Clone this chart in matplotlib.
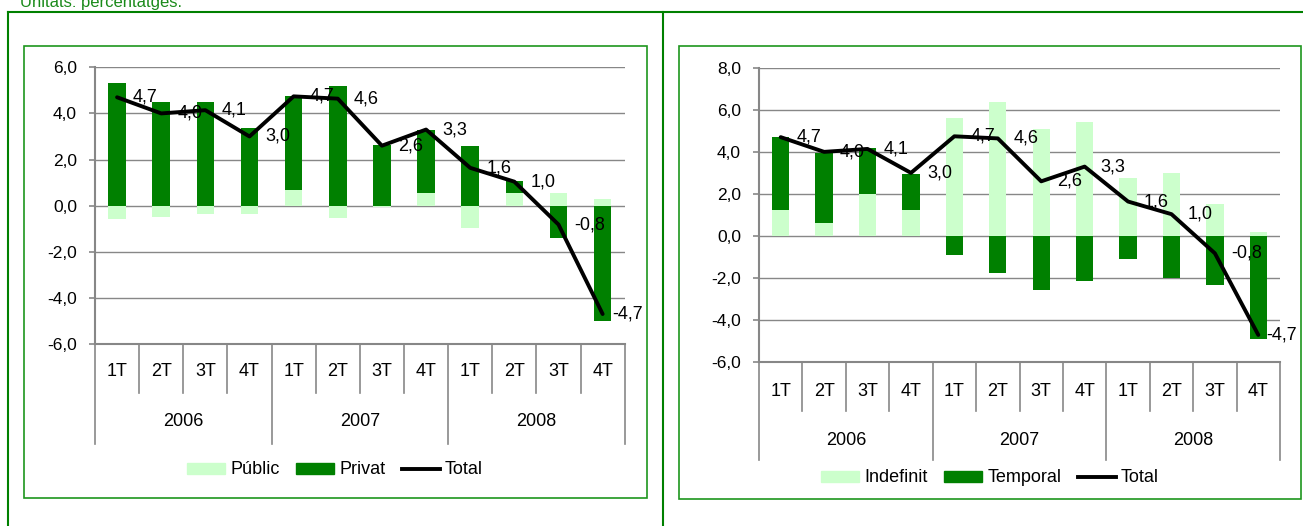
import matplotlib
matplotlib.use('Agg')
import matplotlib.pyplot as plt
from matplotlib.lines import Line2D
from matplotlib.patches import Rectangle, Patch

plt.rcParams['font.family'] = ['Liberation Sans', 'DejaVu Sans']

# --- dades ---
quarters = ['1T', '2T', '3T', '4T'] * 3
years = ['2006', '2007', '2008']

total = [4.7, 4.0, 4.14, 3.0, 4.74, 4.64, 2.6, 3.3, 1.64, 1.04, -0.82, -4.7]

# gràfic esquerre: sector públic / privat
public = [-0.6, -0.5, -0.35, -0.35, 0.7, -0.55, -0.05, 0.55, -0.95, 0.55, 0.55, 0.3]
private = [5.3, 4.5, 4.5, 3.35, 4.05, 5.2, 2.65, 2.75, 2.6, 0.5, -1.4, -5.0]

# gràfic dret: indefinit / temporal
indefinit = [1.25, 0.6, 2.0, 1.25, 5.6, 6.35, 5.1, 5.4, 2.75, 3.0, 1.5, 0.2]
temporal = [3.45, 3.35, 2.2, 1.7, -0.9, -1.75, -2.55, -2.15, -1.1, -2.0, -2.35, -4.9]

LIGHT = '#CCFFCC'
DARK = '#008000'
GRAY = '#878787'
FRAME = '#008000'
BOX = '#1e961e'
FS = 13

W, H = 1303, 526
fig = plt.figure(figsize=(W / 100, H / 100), dpi=100)
labels_to_fit = []


def fx(px):
    return px / W


def fy(py):
    return 1 - py / H


def fmt(v):
    return f'{v:.1f}'.replace('.', ',')


def panel(ax_px, s1, s2, names, ylim, yticks, q_depth, y_depth, q_lab, y_lab, legend_xy,
          box_right):
    left, top, right, bottom = ax_px
    ax = fig.add_axes([fx(left), fy(bottom), (right - left) / W, (bottom - top) / H])
    x = list(range(len(s1)))
    bottoms = [a if (a >= 0) == (b >= 0) else 0 for a, b in zip(s1, s2)]
    ax.bar(x, s1, width=0.4, color=LIGHT, zorder=2)
    ax.bar(x, s2, width=0.4, bottom=bottoms, color=DARK, zorder=2)
    ax.plot(x, total, color='black', lw=2.8, zorder=3, solid_capstyle='round')
    for xi, v in zip(x, total):
        t = ax.annotate(fmt(v), (xi, v), xytext=(11.5, 0), textcoords='offset points',
                        ha='left', va='center', fontsize=FS, zorder=4)
        labels_to_fit.append((t, box_right))

    ax.set_xlim(-0.5, len(s1) - 0.5)
    ax.set_ylim(*ylim)
    ax.set_yticks(yticks)
    ax.set_yticklabels([fmt(t) for t in yticks])
    ax.set_xticks([])
    ax.grid(axis='y', color=GRAY, lw=1.0, zorder=0)
    ax.set_axisbelow(True)
    for s in ('top', 'right'):
        ax.spines[s].set_visible(False)
    for s in ('left', 'bottom'):
        ax.spines[s].set_color(GRAY)
        ax.spines[s].set_linewidth(1.5)
    ax.tick_params(axis='y', colors=GRAY, length=4.5, width=1.2, pad=8.5,
                   labelsize=12.5, labelcolor='black')

    # eix de categories en dos nivells
    hpx = bottom - top
    tr = ax.get_xaxis_transform()
    n = len(s1)
    for i in range(n + 1):
        d = y_depth if i % 4 == 0 else q_depth
        ax.plot([i - 0.5, i - 0.5], [0, -d / hpx], color=GRAY, lw=1.2,
                transform=tr, clip_on=False)
    for i, q in enumerate(quarters):
        ax.text(i, -q_lab / hpx, q, transform=tr, ha='center', va='center', fontsize=FS)
    for j, yr in enumerate(years):
        ax.text(4 * j + 1.5, -y_lab / hpx, yr, transform=tr, ha='center', va='center',
                fontsize=FS)

    handles = [Patch(color=LIGHT), Patch(color=DARK), Line2D([], [], color='black', lw=2.8)]
    fig.legend(handles, names, loc='center', bbox_to_anchor=(fx(legend_xy[0]), fy(legend_xy[1])),
               ncol=3, frameon=False, fontsize=FS, handlelength=2.1, handleheight=0.55,
               handletextpad=0.3, columnspacing=0.9)
    return ax


panel((95, 67.3, 624.7, 344), public, private, ['Públic', 'Privat', 'Total'],
      (-6, 6), [-6, -4, -2, 0, 2, 4, 6], 49, 100, 28, 78, (335, 470), 647)
panel((759, 67.7, 1280, 362.3), indefinit, temporal, ['Indefinit', 'Temporal', 'Total'],
      (-6, 8), [-6, -4, -2, 0, 2, 4, 6, 8], 48.4, 97.7, 28.7, 77.7, (990, 478), 1301)

# marcs
fig.add_artist(Rectangle((fx(24), fy(498)), (647 - 24) / W, (498 - 46) / H,
                         fill=False, ec=BOX, lw=1.2, transform=fig.transFigure))
fig.add_artist(Rectangle((fx(679), fy(499)), (1301 - 679) / W, (499 - 46) / H,
                         fill=False, ec=BOX, lw=1.2, transform=fig.transFigure))
fig.add_artist(Line2D([fx(8), 1], [fy(12), fy(12)], color=FRAME, lw=1.5))
fig.add_artist(Line2D([fx(8), fx(8)], [fy(12), 0], color=FRAME, lw=1.5))
fig.add_artist(Line2D([fx(663), fx(663)], [fy(12), 0], color=FRAME, lw=1.5))

fig.text(fx(20), fy(7), 'Unitats: percentatges.', color='#1a8a1a', fontsize=12,
         ha='left', va='baseline')

# les etiquetes que surten del requadre es desplacen cap a l'esquerra (com Excel)
fig.canvas.draw()
renderer = fig.canvas.get_renderer()
for t, box_right in labels_to_fit:
    ext = t.get_window_extent(renderer)
    over = ext.x1 - (box_right - 4)
    if over > 0:
        dx, dy = t.xyann
        t.xyann = (dx - over * 72 / fig.dpi, dy)

fig.savefig('out.png', dpi=100)
